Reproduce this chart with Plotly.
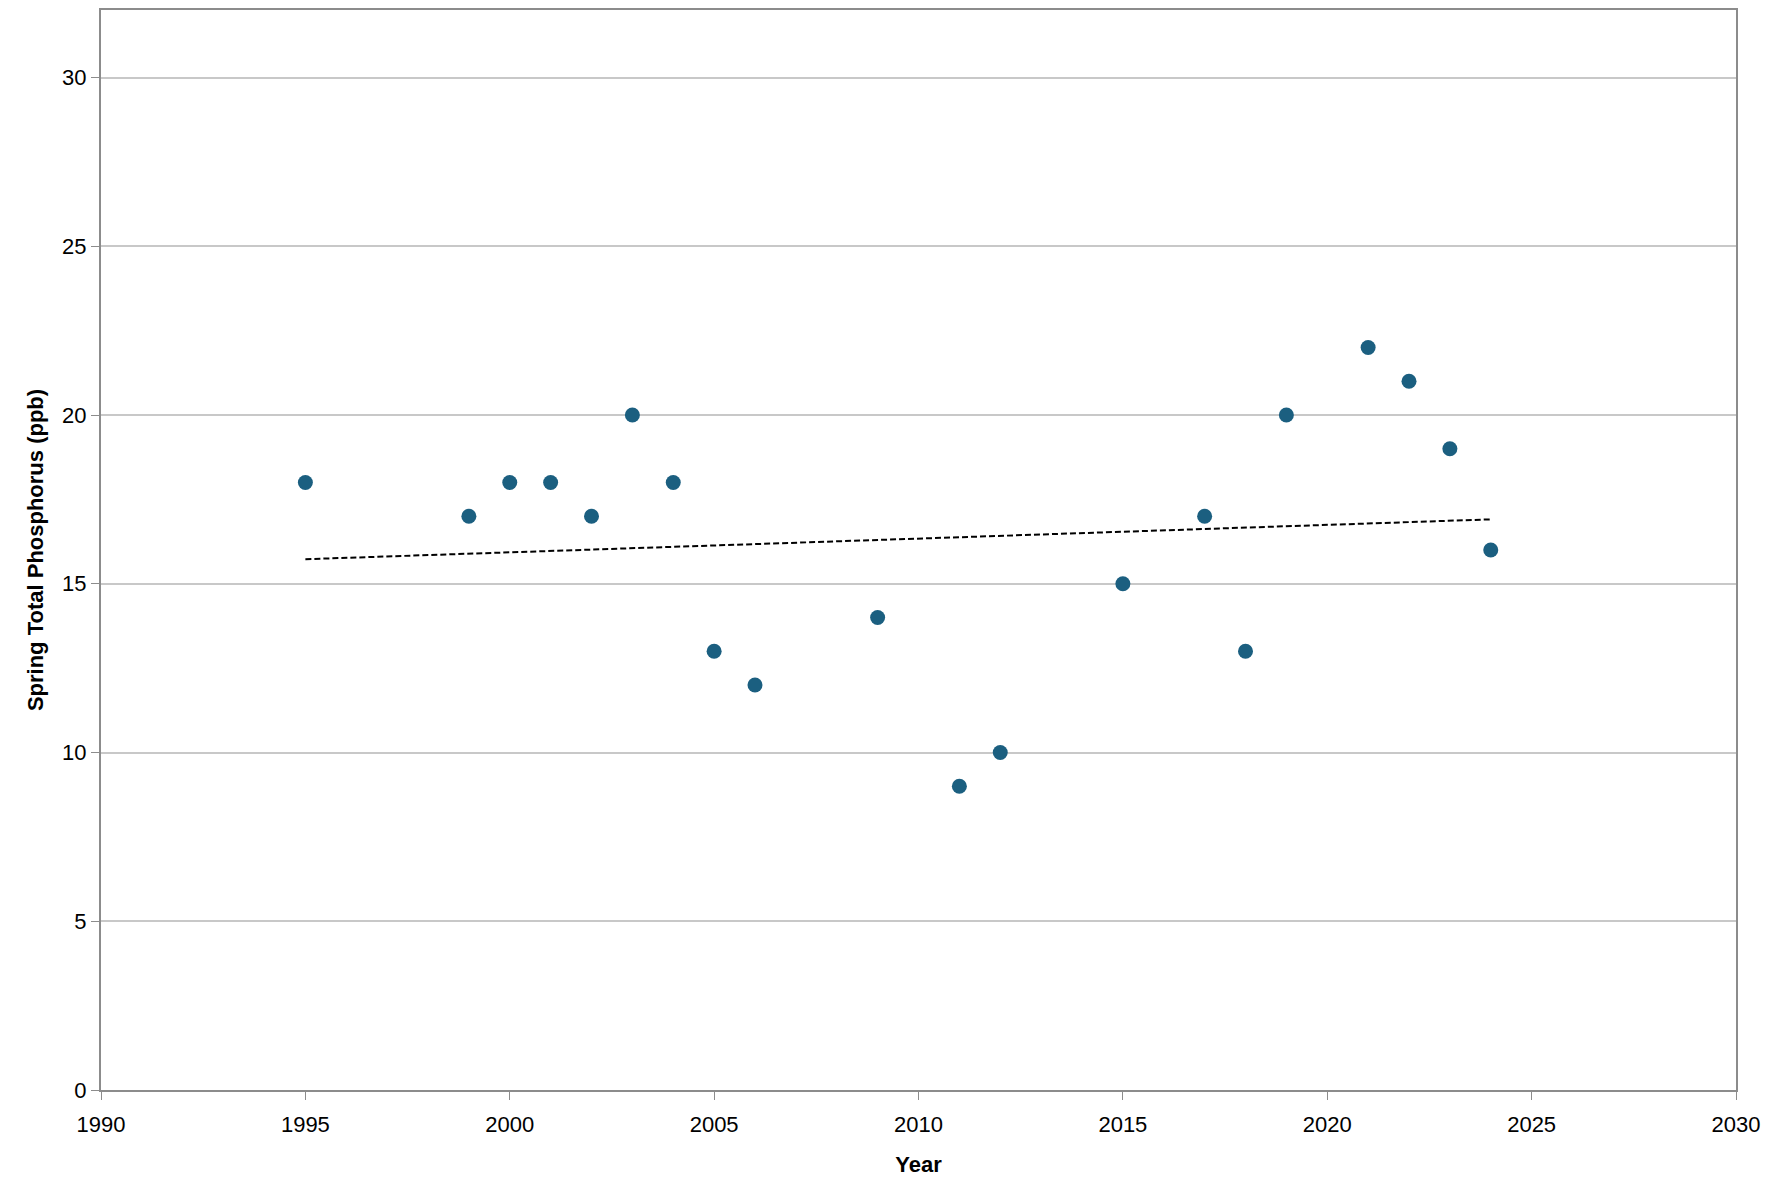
import numpy as np
import plotly.graph_objects as go

years = [1995, 1999, 2000, 2001, 2002, 2003, 2004, 2005, 2006, 2009,
         2011, 2012, 2015, 2017, 2018, 2019, 2021, 2022, 2023, 2024]
phosphorus = [18, 17, 18, 18, 17, 20, 18, 13, 12, 14,
              9, 10, 15, 17, 13, 20, 22, 21, 19, 16]

# linear trend line
slope, intercept = np.polyfit(years, phosphorus, 1)
trend_x = [min(years), max(years)]
trend_y = [slope * x + intercept for x in trend_x]

fig = go.Figure()
fig.add_trace(go.Scatter(
    x=trend_x, y=trend_y, mode="lines",
    line=dict(color="black", width=2, dash="6px,3px"),
    hoverinfo="skip",
))
fig.add_trace(go.Scatter(
    x=years, y=phosphorus, mode="markers",
    marker=dict(color="#1b5f80", size=15),
))

axis_font = dict(family="Liberation Sans", size=22, color="black")
fig.update_layout(
    width=1785, height=1181,
    margin=dict(l=93, r=57, t=0, b=99, pad=0),
    plot_bgcolor="white", paper_bgcolor="white",
    showlegend=False,
    font=axis_font,
)
fig.update_xaxes(
    range=[1990, 2030], tick0=1990, dtick=5,
    showgrid=False, showline=True, linecolor="#8c8c8c", linewidth=2,
    mirror=True, ticks="outside", ticklen=8, tickcolor="#8c8c8c",
    ticklabelstandoff=6,
    title=dict(text="<b>Year</b>", font=dict(size=22), standoff=20),
    zeroline=False,
)
fig.update_yaxes(
    range=[0, 32], tickvals=[0, 5, 10, 15, 20, 25, 30],
    showgrid=True, gridcolor="#c8c8c8", gridwidth=2,
    showline=True, linecolor="#8c8c8c", linewidth=2, mirror=True,
    ticks="outside", ticklen=8, tickcolor="#8c8c8c",
    title=dict(text="<b>Spring Total Phosphorus (ppb)</b>", font=dict(size=22), standoff=12),
    zeroline=False,
)

fig.write_html("out.html")
